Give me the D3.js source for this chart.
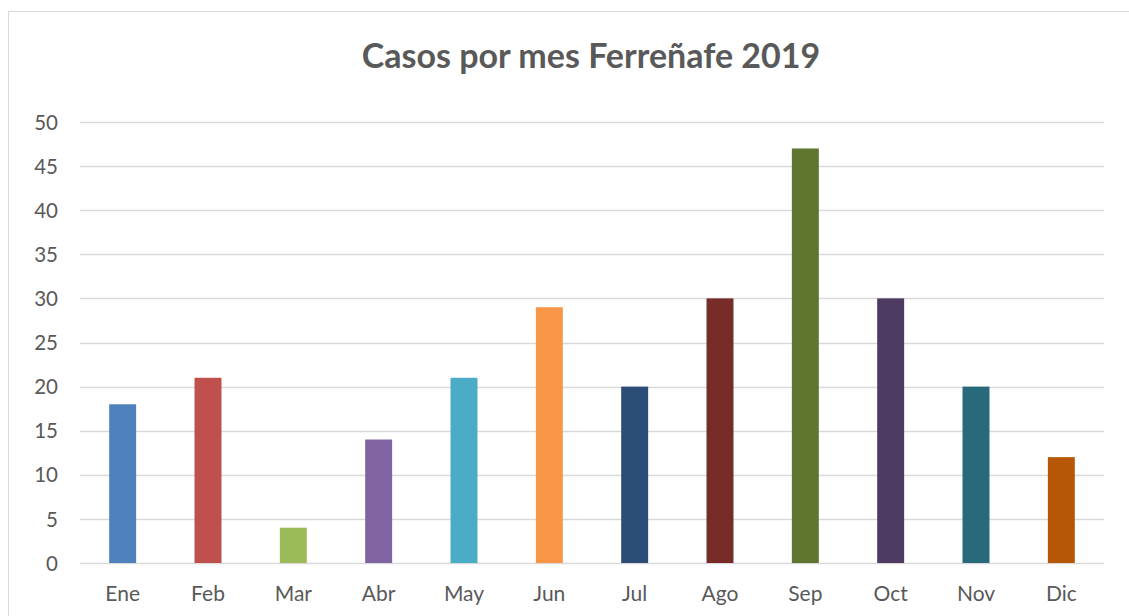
<!DOCTYPE html>
<html>
<head>
<meta charset="utf-8">
<script src="https://cdn.jsdelivr.net/npm/d3@7"></script>
<style>
  body { margin: 0; background: #fff; }
  svg text { font-family: Lato, "Open Sans", sans-serif; fill: #595959; }
</style>
</head>
<body>
<script>
const months = ["Ene", "Feb", "Mar", "Abr", "May", "Jun", "Jul", "Ago", "Sep", "Oct", "Nov", "Dic"];
const cases = [18, 21, 4, 14, 21, 29, 20, 30, 47, 30, 20, 12];
const barColors = ["#4F81BD", "#C0504D", "#9BBB59", "#8064A2", "#4BACC6", "#F79646",
                   "#2C4D75", "#772C2A", "#5F7530", "#4D3B62", "#276A7C", "#B65708"];
const yTicks = [0, 5, 10, 15, 20, 25, 30, 35, 40, 45, 50];
const title = "Casos por mes Ferreñafe 2019";

const w = 1129;
const h = 616;
const plotLeft = 80, plotRight = 1104, plotTop = 122, plotBottom = 563;

const svg = d3.select("body")
  .append("svg")
  .attr("width", w)
  .attr("height", h);

// chart frame (runs off the right and bottom edges)
svg.append("rect")
  .attr("x", 8.5)
  .attr("y", 11.5)
  .attr("width", 1140)
  .attr("height", 640)
  .attr("fill", "#fff")
  .attr("stroke", "#d9d9d9")
  .attr("stroke-width", 1);

const x = d3.scaleBand()
  .domain(months)
  .range([plotLeft, plotRight])
  .paddingInner(0.684)
  .paddingOuter(0.342);

const y = d3.scaleLinear()
  .domain([0, 50])
  .range([plotBottom, plotTop]);

// gridlines
svg.append("g")
  .selectAll("line")
  .data(yTicks)
  .enter()
  .append("line")
  .attr("x1", plotLeft)
  .attr("x2", plotRight)
  .attr("y1", d => Math.round(y(d)) + 0.5)
  .attr("y2", d => Math.round(y(d)) + 0.5)
  .attr("stroke", "#d9d9d9")
  .attr("stroke-width", 1.5);

// y axis labels
const yAxis = d3.axisLeft(y).tickValues(yTicks).tickSize(0).tickPadding(0);
svg.append("g")
  .attr("transform", `translate(${plotLeft - 22},0)`)
  .call(yAxis)
  .call(g => g.select(".domain").remove())
  .selectAll("text")
  .style("font-size", "20.5px")
  .attr("dy", "0.35em");

// bars
svg.append("g")
  .selectAll("rect")
  .data(cases)
  .enter()
  .append("rect")
  .attr("x", (d, i) => x(months[i]))
  .attr("y", d => y(d))
  .attr("width", x.bandwidth())
  .attr("height", d => y(0) - y(d))
  .attr("fill", (d, i) => barColors[i]);

// x axis labels
const xAxis = d3.axisBottom(x).tickSize(0).tickPadding(0);
svg.append("g")
  .attr("transform", `translate(0,${plotBottom + 23})`)
  .call(xAxis)
  .call(g => g.select(".domain").remove())
  .selectAll("text")
  .style("font-size", "21px")
  .attr("dy", "0.71em");

// title
svg.append("text")
  .attr("x", 591)
  .attr("y", 56)
  .attr("text-anchor", "middle")
  .attr("dy", "0.35em")
  .style("font-size", "34px")
  .style("font-weight", "bold")
  .text(title);
</script>
</body>
</html>
